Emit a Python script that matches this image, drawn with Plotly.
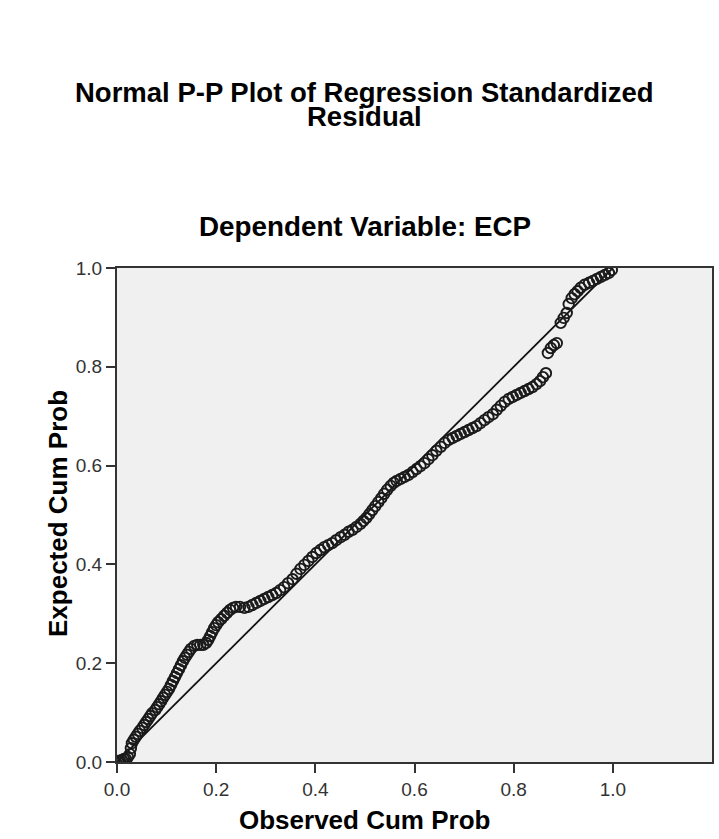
import plotly.graph_objects as go

# Observed cumulative probability (x) and expected cumulative probability (y)
observed_cum_prob = [
    0.002, 0.006, 0.010, 0.014, 0.018, 0.022, 0.026, 0.028, 0.030, 0.034,
    0.038, 0.042, 0.046, 0.051, 0.055, 0.059, 0.063, 0.067, 0.071, 0.077,
    0.081, 0.085, 0.089, 0.093, 0.097, 0.101, 0.105, 0.109, 0.113, 0.117,
    0.121, 0.125, 0.129, 0.133, 0.137, 0.141, 0.145, 0.149, 0.156, 0.162,
    0.168, 0.174, 0.180, 0.184, 0.188, 0.192, 0.196, 0.200, 0.204, 0.210,
    0.216, 0.222, 0.228, 0.234, 0.240, 0.248, 0.257, 0.265, 0.273, 0.281,
    0.289, 0.297, 0.305, 0.313, 0.321, 0.329, 0.337, 0.345, 0.354, 0.362,
    0.370, 0.378, 0.386, 0.394, 0.402, 0.410, 0.418, 0.426, 0.434, 0.442,
    0.451, 0.459, 0.467, 0.475, 0.483, 0.491, 0.497, 0.503, 0.509, 0.515,
    0.521, 0.527, 0.533, 0.539, 0.545, 0.552, 0.558, 0.564, 0.572, 0.580,
    0.588, 0.596, 0.604, 0.612, 0.620, 0.628, 0.636, 0.644, 0.653, 0.661,
    0.669, 0.677, 0.685, 0.693, 0.701, 0.709, 0.717, 0.725, 0.733, 0.741,
    0.749, 0.758, 0.766, 0.774, 0.782, 0.790, 0.798, 0.806, 0.814, 0.822,
    0.830, 0.838, 0.846, 0.853, 0.859, 0.865,
    0.869, 0.875, 0.881, 0.887,
    0.895, 0.901, 0.907, 0.911, 0.917, 0.923, 0.929, 0.935, 0.943, 0.952,
    0.960, 0.968, 0.976, 0.984, 0.992, 0.998,
]
expected_cum_prob = [
    0.002, 0.002, 0.004, 0.006, 0.006, 0.010, 0.016, 0.028, 0.038, 0.045,
    0.051, 0.057, 0.063, 0.069, 0.075, 0.081, 0.087, 0.093, 0.099, 0.105,
    0.111, 0.117, 0.123, 0.130, 0.136, 0.142, 0.148, 0.156, 0.164, 0.172,
    0.180, 0.188, 0.196, 0.204, 0.211, 0.217, 0.223, 0.229, 0.235, 0.237,
    0.237, 0.237, 0.241, 0.247, 0.255, 0.263, 0.271, 0.277, 0.283, 0.289,
    0.296, 0.302, 0.308, 0.312, 0.314, 0.314, 0.312, 0.314, 0.318, 0.322,
    0.326, 0.330, 0.334, 0.338, 0.342, 0.348, 0.354, 0.362, 0.370, 0.381,
    0.391, 0.399, 0.407, 0.415, 0.423, 0.429, 0.435, 0.439, 0.443, 0.449,
    0.455, 0.460, 0.466, 0.470, 0.476, 0.482, 0.488, 0.494, 0.502, 0.510,
    0.518, 0.526, 0.534, 0.543, 0.551, 0.559, 0.565, 0.569, 0.573, 0.577,
    0.581, 0.587, 0.593, 0.599, 0.605, 0.613, 0.621, 0.630, 0.638, 0.646,
    0.652, 0.656, 0.660, 0.664, 0.668, 0.672, 0.676, 0.680, 0.686, 0.692,
    0.698, 0.704, 0.713, 0.721, 0.729, 0.735, 0.739, 0.743, 0.747, 0.751,
    0.755, 0.759, 0.765, 0.771, 0.779, 0.787,
    0.828, 0.838, 0.844, 0.848,
    0.889, 0.899, 0.909, 0.927, 0.939, 0.947, 0.953, 0.960, 0.966, 0.970,
    0.974, 0.978, 0.982, 0.986, 0.990, 0.996,
]

# Reference line (normal expectation)
ref_line_x = [0.0, 1.0]
ref_line_y = [0.0, 1.0]

tick_vals = [0.0, 0.2, 0.4, 0.6, 0.8, 1.0]
tick_text = ["0.0", "0.2", "0.4", "0.6", "0.8", "1.0"]

title_line1 = "Normal P-P Plot of Regression Standardized"
title_line2 = "Residual"
subtitle = "Dependent Variable: ECP"
x_title = "Observed Cum Prob"
y_title = "Expected Cum Prob"

FONT = "Arial, 'Liberation Sans', sans-serif"

fig = go.Figure()
fig.add_trace(go.Scatter(
    x=ref_line_x, y=ref_line_y, mode="lines",
    line=dict(color="#111111", width=1.8), hoverinfo="skip", showlegend=False,
))
fig.add_trace(go.Scatter(
    x=observed_cum_prob, y=expected_cum_prob, mode="markers",
    marker=dict(symbol="circle-open", size=10.5, color="#1a1a1a",
                line=dict(width=1.9, color="#1a1a1a")),
    showlegend=False,
))

axis_common = dict(
    showgrid=False, zeroline=False, showline=True, mirror=True,
    linecolor="#333333", linewidth=2, ticks="outside", ticklen=9,
    tickwidth=2, tickcolor="#333333",
    tickfont=dict(family=FONT, size=19, color="#333333"),
    tickvals=tick_vals, ticktext=tick_text,
)
fig.update_xaxes(range=[0, 1.2], **axis_common)
fig.update_yaxes(range=[0, 1.0], **axis_common)

annots = [
    dict(text=title_line1, y=1.356, size=27.5, anchor="middle"),
    dict(text=title_line2, y=1.306, size=27.5, anchor="middle"),
    dict(text=subtitle, y=1.085, size=27.8, anchor="middle"),
    dict(text=x_title, y=-0.1528, size=26, anchor="bottom"),
]
for a in annots:
    fig.add_annotation(showarrow=False, xanchor="center", yanchor=a["anchor"],
                       font=dict(family=FONT, size=a["size"], color="#000000"),
                       text="<b>%s</b>" % a["text"], x=0.5, xref="x",
                       y=a["y"], yref="paper")
fig.add_annotation(showarrow=False, xanchor="center", yanchor="middle",
                   textangle=-90, text="<b>%s</b>" % y_title,
                   font=dict(family=FONT, size=26, color="#000000"),
                   x=-0.0992, xref="paper", y=0.504, yref="paper")

fig.update_layout(
    width=719, height=839,
    margin=dict(l=117, r=7, t=268, b=77, autoexpand=False),
    paper_bgcolor="#ffffff", plot_bgcolor="#f0f0f0",
)

fig.write_html("out.html", config={"displayModeBar": False},
               post_script="document.body.style.margin='0px';"
                           "document.body.style.overflow='hidden';")
